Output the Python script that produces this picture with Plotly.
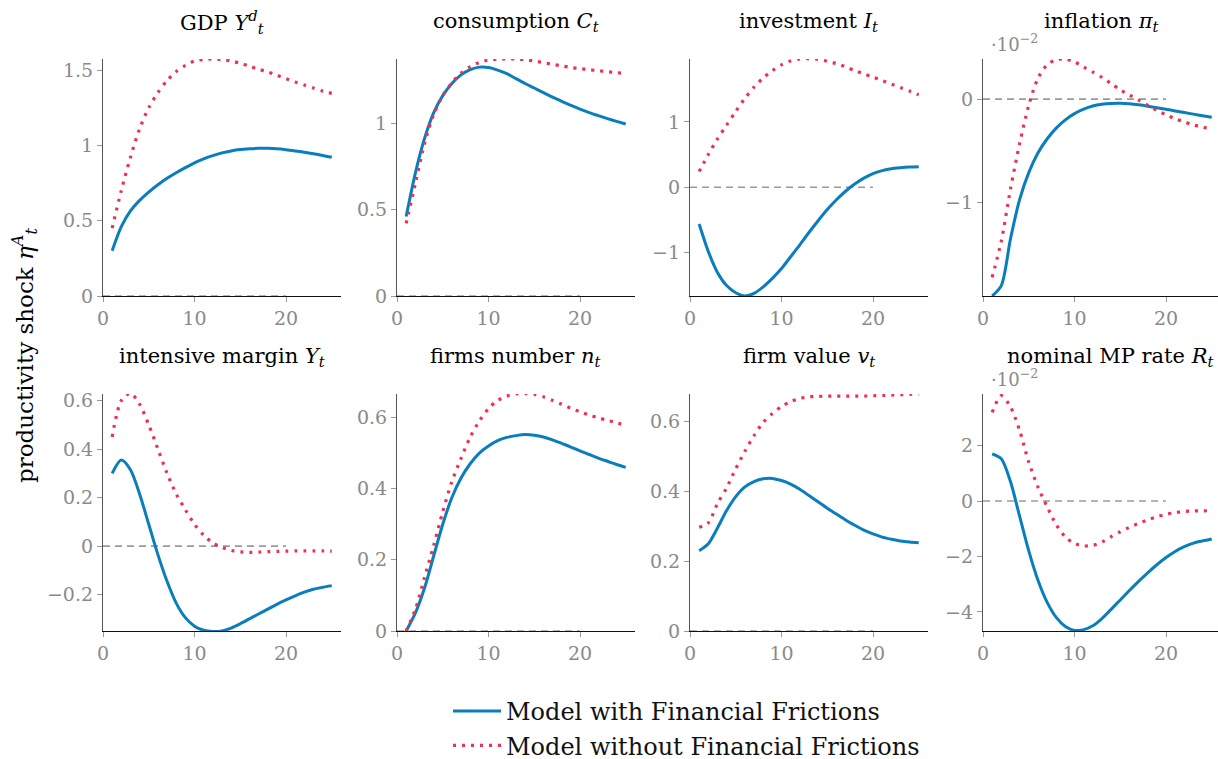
import plotly.graph_objects as go

# ---------------- data ----------------
t = list(range(1, 26))
zero_x = [0, 20]
zero_y = [0, 0]

titles = [
    "GDP <i>Y</i><sup><i>d</i></sup><sub><i>t</i></sub>",
    "consumption <i>C<sub>t</sub></i>",
    "investment <i>I<sub>t</sub></i>",
    "inflation <i>π<sub>t</sub></i>",
    "intensive margin <i>Y<sub>t</sub></i>",
    "firms number <i>n<sub>t</sub></i>",
    "firm value <i>v<sub>t</sub></i>",
    "nominal MP rate <i>R<sub>t</sub></i>",
]

series_names = ["Model with Financial Frictions", "Model without Financial Frictions"]

gdp_ff = [0.30, 0.46, 0.565, 0.635, 0.69, 0.738, 0.781, 0.818, 0.852, 0.884, 0.91, 0.932, 0.95,
          0.963, 0.972, 0.977, 0.98, 0.98, 0.977, 0.971, 0.963, 0.954, 0.944, 0.933, 0.921]
gdp_noff = [0.45, 0.70, 0.92, 1.11, 1.25, 1.35, 1.43, 1.49, 1.53, 1.56, 1.57, 1.573, 1.57,
            1.56, 1.545, 1.525, 1.505, 1.487, 1.465, 1.443, 1.421, 1.40, 1.38, 1.36, 1.345]

cons_ff = [0.46, 0.71, 0.91, 1.06, 1.16, 1.23, 1.28, 1.31, 1.325, 1.323, 1.308, 1.287, 1.258,
           1.23, 1.204, 1.177, 1.151, 1.127, 1.104, 1.082, 1.062, 1.044, 1.027, 1.011, 0.996]
cons_noff = [0.42, 0.65, 0.88, 1.05, 1.16, 1.235, 1.29, 1.328, 1.352, 1.366, 1.372, 1.373, 1.372,
             1.368, 1.36, 1.351, 1.341, 1.332, 1.323, 1.316, 1.31, 1.304, 1.298, 1.293, 1.288]

inv_ff = [-0.56, -0.98, -1.30, -1.50, -1.61, -1.66, -1.62, -1.52, -1.39, -1.24, -1.06, -0.88, -0.69,
          -0.51, -0.34, -0.19, -0.06, 0.05, 0.14, 0.21, 0.255, 0.285, 0.30, 0.31, 0.315]
inv_noff = [0.24, 0.50, 0.74, 0.95, 1.16, 1.36, 1.53, 1.67, 1.78, 1.87, 1.93, 1.96, 1.965,
            1.955, 1.925, 1.89, 1.84, 1.785, 1.733, 1.682, 1.631, 1.578, 1.524, 1.47, 1.415]

# inflation, in units of 10^-2
infl_ff = [-1.90, -1.80, -1.35, -0.97, -0.71, -0.52, -0.385, -0.28, -0.20, -0.14, -0.097, -0.067, -0.05,
           -0.042, -0.04, -0.045, -0.055, -0.068, -0.083, -0.098, -0.114, -0.13, -0.145, -0.16, -0.175]
infl_noff = [-1.72, -1.37, -0.87, -0.43, -0.06, 0.20, 0.33, 0.38, 0.387, 0.36, 0.31, 0.26, 0.21,
             0.15, 0.09, 0.04, -0.01, -0.06, -0.11, -0.15, -0.19, -0.22, -0.25, -0.27, -0.29]

intm_ff = [0.30, 0.355, 0.315, 0.215, 0.09, -0.035, -0.145, -0.235, -0.295, -0.33, -0.347, -0.352, -0.35,
           -0.338, -0.32, -0.30, -0.28, -0.26, -0.24, -0.222, -0.205, -0.19, -0.178, -0.17, -0.163]
intm_noff = [0.45, 0.60, 0.63, 0.585, 0.50, 0.40, 0.30, 0.215, 0.15, 0.09, 0.045, 0.013, -0.005,
             -0.018, -0.024, -0.026, -0.025, -0.023, -0.022, -0.021, -0.02, -0.02, -0.02, -0.02, -0.021]

firms_ff = [0.0, 0.05, 0.12, 0.21, 0.30, 0.375, 0.43, 0.47, 0.50, 0.52, 0.535, 0.544, 0.549,
            0.552, 0.55, 0.545, 0.537, 0.527, 0.517, 0.506, 0.496, 0.486, 0.477, 0.468, 0.46]
firms_noff = [0.0, 0.06, 0.15, 0.24, 0.335, 0.42, 0.485, 0.545, 0.59, 0.625, 0.648, 0.66, 0.666,
              0.667, 0.665, 0.658, 0.648, 0.637, 0.626, 0.616, 0.607, 0.599, 0.592, 0.585, 0.578]

fval_ff = [0.23, 0.25, 0.295, 0.345, 0.385, 0.413, 0.428, 0.436, 0.437, 0.431, 0.421, 0.406, 0.388,
           0.370, 0.352, 0.335, 0.318, 0.303, 0.289, 0.278, 0.269, 0.263, 0.258, 0.255, 0.253]
fval_noff = [0.297, 0.31, 0.365, 0.41, 0.465, 0.515, 0.56, 0.598, 0.623, 0.643, 0.657, 0.666, 0.671,
             0.672, 0.673, 0.673, 0.673, 0.673, 0.673, 0.674, 0.675, 0.676, 0.677, 0.678, 0.679]

# nominal MP rate, in units of 10^-2
rate_ff = [1.70, 1.52, 0.70, -0.55, -1.80, -2.85, -3.65, -4.20, -4.53, -4.67, -4.64, -4.5, -4.24,
           -3.91, -3.57, -3.23, -2.9, -2.59, -2.3, -2.04, -1.82, -1.65, -1.52, -1.44, -1.37]
rate_noff = [3.2, 3.8, 3.4, 2.55, 1.4, 0.51, -0.2, -0.85, -1.3, -1.53, -1.62, -1.6, -1.48,
             -1.29, -1.11, -0.95, -0.81, -0.68, -0.57, -0.48, -0.42, -0.38, -0.36, -0.355, -0.35]

series_ff = [gdp_ff, cons_ff, inv_ff, infl_ff, intm_ff, firms_ff, fval_ff, rate_ff]
series_noff = [gdp_noff, cons_noff, inv_noff, infl_noff, intm_noff, firms_noff, fval_noff, rate_noff]

yticks = [
    [0, 0.5, 1, 1.5],
    [0, 0.5, 1],
    [-1, 0, 1],
    [-1, 0],
    [-0.2, 0, 0.2, 0.4, 0.6],
    [0, 0.2, 0.4, 0.6],
    [0, 0.2, 0.4, 0.6],
    [-4, -2, 0, 2],
]
xticks = [0, 10, 20]
scaled = [False, False, False, True, False, False, False, True]
scale_label = "·10<sup>−2</sup>"

# ---------------- layout config ----------------
W, H = 1218, 759
yranges = [
    [0, 1.573], [0, 1.372], [-1.66, 1.96], [-1.90, 0.387],
    [-0.35, 0.627], [0, 0.666], [0, 0.679], [-4.69, 3.86],
]
px_per_unit = 9.15
col_left = [103, 397, 690, 983]
row_top = [59, 394]
row_bot = [296, 631]

FONT = "DejaVu Serif"
BLUE = "#0a7ebd"
RED = "#f0304f"
GRAY = "#8a8a8a"


def fmt(v):
    return f"{v:g}".replace("-", "−")


def px_x(p):
    return p / W


def px_y(p):
    return 1 - p / H


fig = go.Figure()
layout = dict(
    width=W, height=H,
    margin=dict(l=0, r=0, t=0, b=0, autoexpand=False),
    paper_bgcolor="white", plot_bgcolor="white",
    font=dict(family=FONT, size=18, color="black"),
    showlegend=True,
    legend=dict(x=px_x(448), y=px_y(689), xanchor="left", yanchor="top",
                font=dict(family=FONT, size=24, color="#111"),
                bgcolor="rgba(0,0,0,0)", tracegroupgap=0, itemwidth=48),
)
annotations = []

for i in range(8):
    r, c = divmod(i, 4)
    k = i + 1
    xa = "x" if k == 1 else f"x{k}"
    ya = "y" if k == 1 else f"y{k}"
    x0 = col_left[c]
    x1 = min(x0 + 26 * px_per_unit, W)
    xmax = (x1 - x0) / px_per_unit

    fig.add_trace(go.Scatter(x=zero_x, y=zero_y, mode="lines", xaxis=xa, yaxis=ya,
                             line=dict(color="#9a9a9a", width=1.6, dash="7px,5px"),
                             showlegend=False, hoverinfo="skip"))
    fig.add_trace(go.Scatter(x=t, y=series_ff[i], mode="lines", xaxis=xa, yaxis=ya,
                             line=dict(color=BLUE, width=3, shape="spline", smoothing=0.8),
                             name=series_names[0], showlegend=(i == 0), legendgroup="ff"))
    fig.add_trace(go.Scatter(x=t, y=series_noff[i], mode="lines", xaxis=xa, yaxis=ya,
                             line=dict(color=RED, width=3.2, shape="spline", smoothing=0.8,
                                       dash="3px,6px"),
                             name=series_names[1], showlegend=(i == 0), legendgroup="noff"))

    xkey = "xaxis" if k == 1 else f"xaxis{k}"
    ykey = "yaxis" if k == 1 else f"yaxis{k}"
    layout[xkey] = dict(
        domain=[px_x(x0), px_x(x1)], range=[0, xmax], anchor=ya, automargin=False,
        showline=True, linecolor="#111", linewidth=1.2, showgrid=False, zeroline=False,
        tickmode="array", tickvals=xticks, ticktext=[fmt(v) for v in xticks],
        ticks="outside", ticklen=5, tickcolor="#999", tickwidth=1,
        tickfont=dict(family=FONT, size=19, color=GRAY),
    )
    layout[ykey] = dict(
        domain=[px_y(row_bot[r]), px_y(row_top[r])], range=yranges[i], anchor=xa,
        automargin=False,
        showline=True, linecolor="#555", linewidth=1.2, showgrid=False, zeroline=False,
        tickmode="array", tickvals=yticks[i], ticktext=[fmt(v) for v in yticks[i]],
        ticks="outside", ticklen=5, tickcolor="#999", tickwidth=1,
        tickfont=dict(family=FONT, size=19, color=GRAY),
    )
    cx = x0 + 13 * px_per_unit
    title_ann = dict(
        text=titles[i], xref="paper", yref="paper",
        x=px_x(cx), y=px_y(row_top[r] - 37),
        xanchor="center", yanchor="middle", showarrow=False,
        font=dict(family=FONT, size=21, color="black"),
    )
    if i == 7:
        title_ann.update(x=px_x(W - 3), xanchor="right")
    annotations.append(title_ann)
    if scaled[i]:
        annotations.append(dict(
            text=scale_label, xref="paper", yref="paper",
            x=px_x(x0 + 6), y=px_y(row_top[r] - 16),
            xanchor="left", yanchor="middle", showarrow=False,
            font=dict(family=FONT, size=18, color=GRAY),
        ))

annotations.append(dict(
    text="productivity shock <i>η</i><sup><i>A</i></sup><sub><i>t</i></sub>",
    xref="paper", yref="paper", x=px_x(24), y=px_y(356),
    xanchor="center", yanchor="middle", textangle=-90, showarrow=False,
    font=dict(family=FONT, size=23, color="black"),
))
layout["annotations"] = annotations
fig.update_layout(**layout)

# remove the default page margin so the 1218x759 figure fills the window exactly
fig.write_html(
    "out.html",
    config={"displayModeBar": False},
    post_script="document.body.style.margin='0';document.body.style.overflow='hidden';",
)
